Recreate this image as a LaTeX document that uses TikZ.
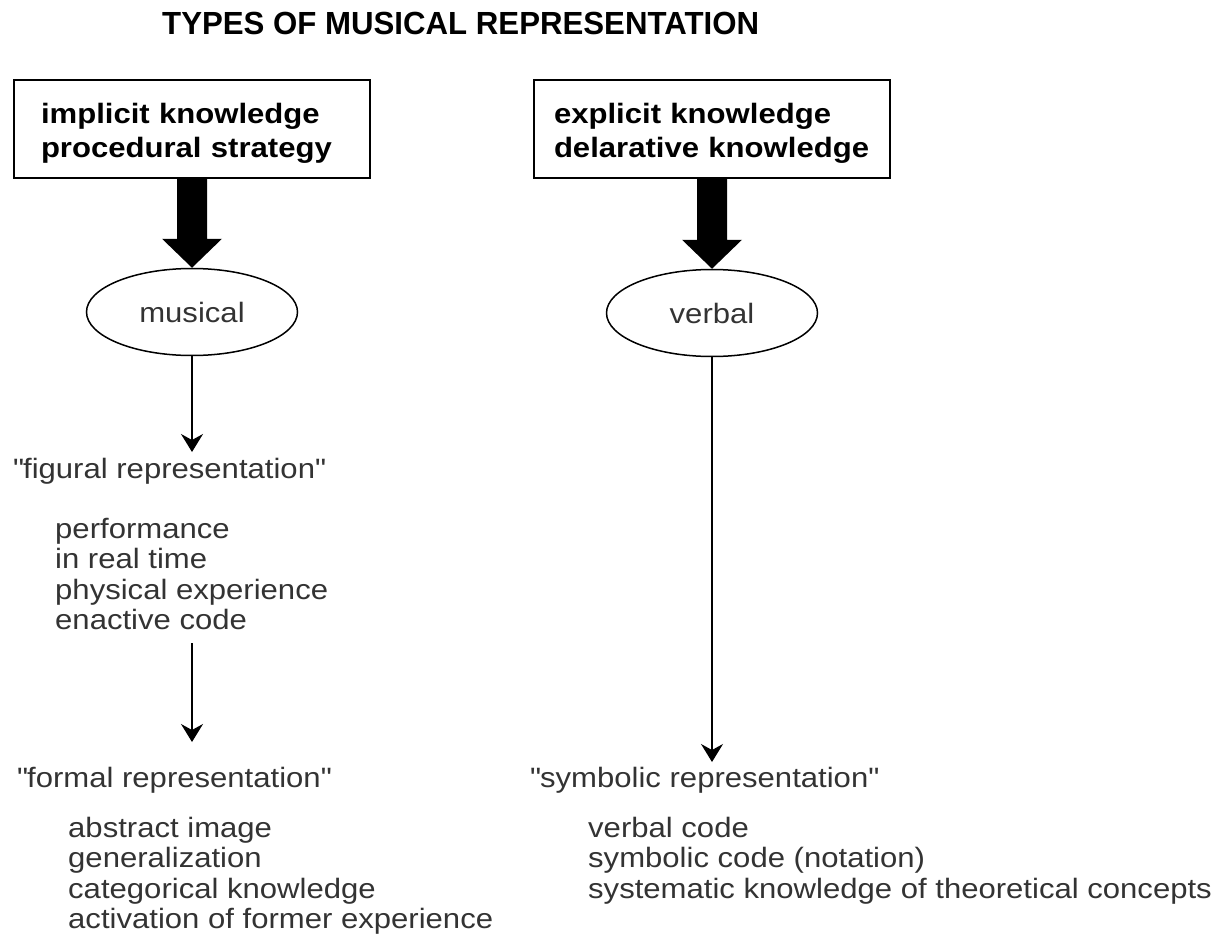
\documentclass[tikz,border=0pt]{standalone}
\usepackage{fontspec}
\setmainfont[FakeStretch=1.11]{Liberation Sans}
\newfontfamily\titlefont[FakeStretch=0.975]{Liberation Sans}
\usetikzlibrary{shapes.geometric,arrows.meta}

\begin{document}
\begin{tikzpicture}[x=1pt,y=-1pt,
        knowbox/.style={draw,line width=2pt,align=left,minimum height=98pt,inner ysep=0pt,
            font=\bfseries\fontsize{28}{34}\selectfont},
        kind/.style={draw,ellipse,line width=1.5pt,minimum width=211pt,minimum height=87pt,
            inner sep=0pt,text=black!80,font=\fontsize{28}{30.5}\selectfont},
        words/.style={align=left,inner sep=0pt,text=black!80,font=\fontsize{28}{30.5}\selectfont},
        pointer/.style={line width=1.5pt,-{Stealth[width=22pt,length=18pt,inset=6pt]}}]
        \useasboundingbox (0,0) rectangle (1228,936);
        \def\bigarrow#1#2{\fill ([xshift=-15pt]#1.south) -- ([xshift=15pt]#1.south)
            -- ([xshift=15pt,yshift=29pt]#2.north) -- ([xshift=30pt,yshift=29pt]#2.north) -- (#2.north)
            -- ([xshift=-30pt,yshift=29pt]#2.north) -- ([xshift=-15pt,yshift=29pt]#2.north) -- cycle}
        \node[anchor=base west,inner sep=0pt,font=\titlefont\bfseries\fontsize{32}{34}\selectfont] (title) at (162,35)
            {TYPES OF MUSICAL REPRESENTATION};
        % the two kinds of knowledge
        \node[knowbox,text width=302pt,inner xsep=27pt] (implicit) at (192,129)
            {\rule{0pt}{28pt}implicit knowledge\\procedural strategy};
        \node[knowbox,text width=316pt,inner xsep=20pt] (explicit) at (712,129)
            {\rule{0pt}{28pt}explicit knowledge\\delarative knowledge};
        \node[kind] (musical) at (192,312) {musical};
        \node[kind] (verbal) at (712,313) {verbal};
        \bigarrow{implicit}{musical};
        \bigarrow{explicit}{verbal};
        % left column
        \node[words,anchor=base west] (figural) at (13,478) {\textquotedbl figural representation\textquotedbl};
        \node[words,anchor=north west] (figlist) at (55,518)
            {performance\\in real time\\physical experience\\enactive code};
        \node[words,anchor=base west] (formal) at (17,787) {\textquotedbl formal representation\textquotedbl};
        \node[words,anchor=north west] (formlist) at (68,817)
            {abstract image\\generalization\\categorical knowledge\\activation of former experience};
        \coordinate (figtip) at (192,452);
        \coordinate (formtop) at (192,643);
        \coordinate (formtip) at (192,742);
        \draw[pointer] (musical.south) -- (figtip);
        \draw[pointer] (formtop) -- (formtip);
        % right column
        \node[words,anchor=base west] (symbolic) at (530,787) {\textquotedbl symbolic representation\textquotedbl};
        \node[words,anchor=north west] (symlist) at (588,817)
            {verbal code\\symbolic code (notation)\\systematic knowledge of theoretical concepts};
        \coordinate (symtip) at (712,762);
        \draw[pointer] (verbal.south) -- (symtip);
    \end{tikzpicture}
\end{document}
